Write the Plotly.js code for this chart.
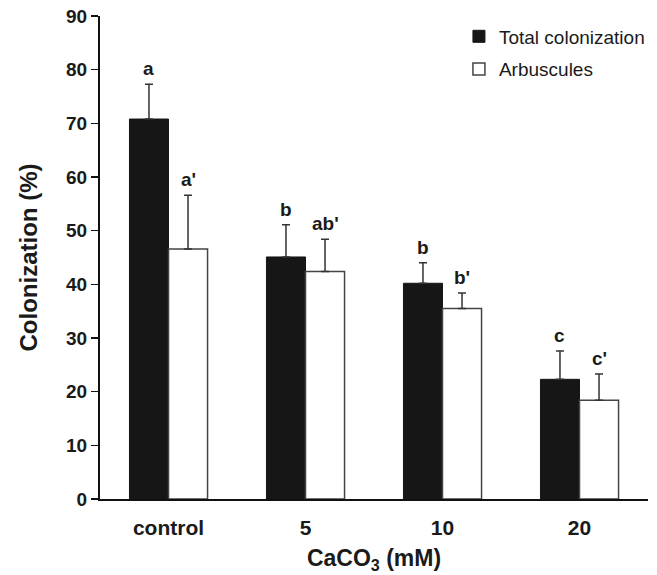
<!DOCTYPE html>
<html>
<head>
<meta charset="utf-8">
<script src="https://cdn.plot.ly/plotly-3.0.1.min.js"></script>
<style>
  html, body { margin: 0; padding: 0; background: #fff; }
  #chart { width: 657px; height: 575px; }
</style>
</head>
<body>
<div id="chart"></div>
<script>
// CaCO3 treatments
const categories = ['control', '5', '10', '20'];

// Total colonization (%) and its standard error
const totalValues = [70.8, 45.1, 40.2, 22.3];
const totalErrors = [6.5, 6.0, 3.8, 5.3];
const totalLetters = ['a', 'b', 'b', 'c'];

// Arbuscules (%) and its standard error
const arbValues = [46.6, 42.4, 35.5, 18.4];
const arbErrors = [10.0, 6.0, 2.9, 4.9];
const arbLetters = ["a'", "ab'", "b'", "c'"];

const yTicks = [0, 10, 20, 30, 40, 50, 60, 70, 80, 90];

const FONT = '"Liberation Sans", Arial, Helvetica, sans-serif';
const INK = '#1a1a1a';
const BARGAP = 0.43;
const half = (1 - BARGAP) / 4; // offset of each bar centre from its category

const errStyle = (arr) => ({
  type: 'data', array: arr, symmetric: false, arrayminus: arr.map(() => 0),
  color: '#333', thickness: 1.5, width: 4
});

const traces = [
  {
    type: 'bar', name: 'Total colonization', x: categories, y: totalValues,
    marker: { color: '#161616', line: { color: '#161616', width: 1 } },
    error_y: errStyle(totalErrors), legendgroup: 'g1'
  },
  {
    type: 'bar', name: 'Arbuscules', x: categories, y: arbValues,
    marker: { color: '#ffffff', line: { color: '#444', width: 1.5 } },
    error_y: errStyle(arbErrors), legendgroup: 'g2'
  }
];

// significance letters above each error bar
const annotations = [];
categories.forEach((c, i) => {
  annotations.push({
    x: i - half, y: totalValues[i] + totalErrors[i], xref: 'x', yref: 'y',
    text: '<b>' + totalLetters[i] + '</b>', showarrow: false,
    yanchor: 'bottom', yshift: 3, font: { family: FONT, size: 19, color: INK }
  });
  annotations.push({
    x: i + half, y: arbValues[i] + arbErrors[i], xref: 'x', yref: 'y',
    text: '<b>' + arbLetters[i] + '</b>', showarrow: false,
    yanchor: 'bottom', yshift: 3, font: { family: FONT, size: 19, color: INK }
  });
});

const layout = {
  width: 657, height: 575,
  margin: { l: 100, r: 9, t: 16, b: 76, autoexpand: false },
  paper_bgcolor: '#fff', plot_bgcolor: '#fff',
  barmode: 'group', bargap: BARGAP, bargroupgap: 0,
  font: { family: FONT, color: INK },
  showlegend: true,
  legend: {
    x: 0.655, xanchor: 'left', y: 0.997, yanchor: 'top',
    bgcolor: 'rgba(0,0,0,0)', borderwidth: 0,
    traceorder: 'grouped', tracegroupgap: 5,
    font: { family: FONT, size: 19, color: INK }
  },
  xaxis: {
    type: 'category', range: [-0.5, 3.5],
    showline: true, linecolor: '#111', linewidth: 2,
    ticks: 'outside', ticklen: 9, tickcolor: 'rgba(0,0,0,0)',
    tickfont: { family: FONT, size: 21, color: INK, weight: 'bold' },
    showgrid: false, zeroline: false, fixedrange: true,
    title: { text: '<b>CaCO<sub>3</sub> (mM)</b>', font: { family: FONT, size: 23, color: INK }, standoff: 12 }
  },
  yaxis: {
    range: [0, 90], tickvals: yTicks, ticktext: yTicks.map(String),
    showline: true, linecolor: '#111', linewidth: 2,
    ticks: 'outside', ticklen: 7, tickwidth: 1.5, tickcolor: '#111',
    tickfont: { family: FONT, size: 19, color: INK, weight: 'bold' },
    showgrid: false, zeroline: false, fixedrange: true,
    title: { text: '<b>Colonization (%)</b>', font: { family: FONT, size: 24, color: INK }, standoff: 22 }
  },
  annotations: annotations
};

Plotly.newPlot('chart', traces, layout, { staticPlot: true, displayModeBar: false });
</script>
</body>
</html>
